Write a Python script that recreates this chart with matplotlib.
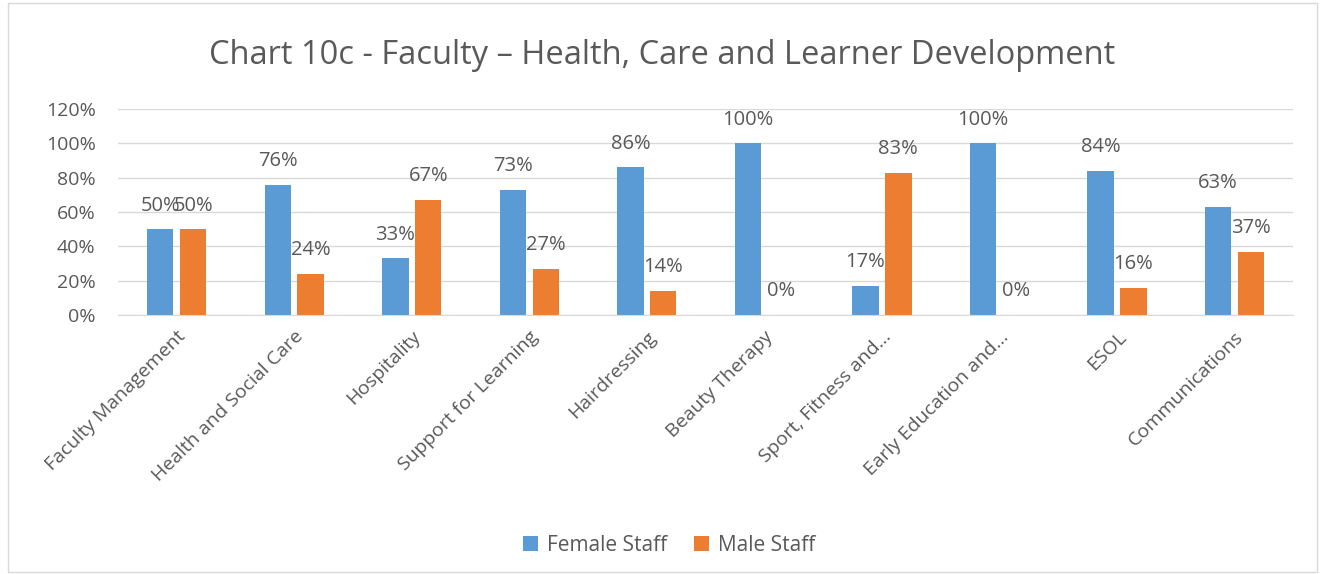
import matplotlib
matplotlib.use("Agg")
import matplotlib.pyplot as plt
import numpy as np
from matplotlib.patches import Rectangle

categories = ["Faculty Management", "Health and Social Care", "Hospitality",
              "Support for Learning", "Hairdressing", "Beauty Therapy",
              "Sport, Fitness and…", "Early Education and…", "ESOL", "Communications"]
female = [50, 76, 33, 73, 86, 100, 17, 100, 84, 63]
male = [50, 24, 67, 27, 14, 0, 83, 0, 16, 37]
yticks = [0, 20, 40, 60, 80, 100, 120]

plt.rcParams['font.family'] = ['Open Sans', 'DejaVu Sans']
txt = '#595959'
blue = '#5B9BD5'
orange = '#ED7D31'

fig = plt.figure(figsize=(13.25, 5.74), dpi=100)
fig.patches.append(Rectangle((0.006, 0.004), 0.988, 0.99, transform=fig.transFigure,
                             fill=False, edgecolor='#D9D9D9', linewidth=1))
ax = fig.add_axes([0.089, 0.451, 0.887, 0.359])
x = np.arange(len(categories))
w = 0.225
off = 0.14
b1 = ax.bar(x - off, female, w, color=blue, label='Female Staff')
b2 = ax.bar(x + off, male, w, color=orange, label='Male Staff')
for bars, vals in ((b1, female), (b2, male)):
    for bar, v in zip(bars, vals):
        ax.text(bar.get_x() + bar.get_width() / 2, v + 8, f"{v}%", ha='center', va='bottom',
                fontsize=14.5, color=txt)

ax.set_xlim(-0.5, len(categories) - 0.5)
ax.set_ylim(0, 120)
ax.set_yticks(yticks)
ax.set_yticklabels([f"{t}%" for t in yticks], fontsize=14, color=txt)
ax.set_xticks(x)
ax.set_xticklabels(categories, rotation=45, ha='right', rotation_mode='anchor', fontsize=14, color=txt)
ax.tick_params(axis='y', length=0, pad=16)
ax.tick_params(axis='x', length=0, pad=9)
ax.grid(axis='y', color='#D9D9D9', linewidth=1)
ax.set_axisbelow(True)
for s in ['top', 'right', 'left']:
    ax.spines[s].set_visible(False)
ax.spines['bottom'].set_color('#D9D9D9')

fig.text(0.5, 0.904, "Chart 10c - Faculty – Health, Care and Learner Development", ha='center', va='center',
         fontsize=23.5, color=txt)
fig.legend(handles=[b1, b2], loc='center', bbox_to_anchor=(0.505, 0.05), ncol=2, frameon=False,
           fontsize=15, labelcolor=txt, handlelength=0.7, handleheight=0.7, columnspacing=1.3, handletextpad=0.45)

fig.savefig('out.png', dpi=100)
